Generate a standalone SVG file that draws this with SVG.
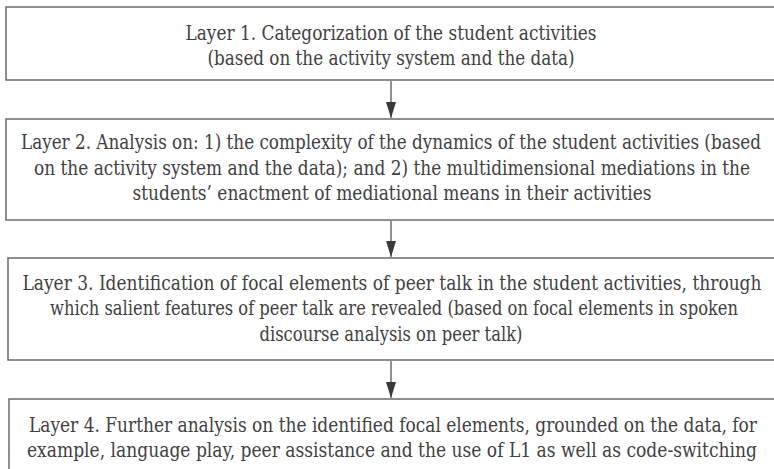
<svg xmlns="http://www.w3.org/2000/svg" width="774" height="469" viewBox="0 0 774 469">
<defs>
<style>
.box{fill:none;stroke:#6a6a6a;stroke-width:1.5}
text{font-family:'DejaVu Serif Condensed','DejaVu Serif',serif;font-stretch:condensed;font-size:20px;fill:#404040;text-anchor:middle}
.c{stroke:#555;stroke-width:1.3;fill:none}
</style>
<marker id="ah" viewBox="0 0 16 10" refX="16" refY="5" markerWidth="16" markerHeight="10" markerUnits="userSpaceOnUse" orient="auto">
<path d="M0,0 L16,5 L0,10 Z" fill="#3a3a3a"/>
</marker>
</defs>
<rect width="774" height="469" fill="#ffffff"/>
<g id="connectors">
<line class="c" x1="391" y1="81" x2="391" y2="118" marker-end="url(#ah)"/>
<line class="c" x1="391" y1="221" x2="391" y2="257" marker-end="url(#ah)"/>
<line class="c" x1="391" y1="361" x2="391" y2="398" marker-end="url(#ah)"/>
</g>
<g id="layer1">
<rect class="box" x="6" y="7" width="772" height="73"/>
<text x="391" y="40" textLength="411" lengthAdjust="spacingAndGlyphs">Layer 1. Categorization of the student activities</text>
<text x="391" y="65" textLength="367" lengthAdjust="spacingAndGlyphs">(based on the activity system and the data)</text>
</g>
<g id="layer2">
<rect class="box" x="6" y="119" width="772" height="101"/>
<text x="391" y="149" textLength="740" lengthAdjust="spacingAndGlyphs">Layer 2. Analysis on: 1) the complexity of the dynamics of the student activities (based</text>
<text x="392" y="175" textLength="716" lengthAdjust="spacingAndGlyphs">on the activity system and the data); and 2) the multidimensional mediations in the</text>
<text x="392" y="200" textLength="519" lengthAdjust="spacingAndGlyphs">students’ enactment of mediational means in their activities</text>
</g>
<g id="layer3">
<rect class="box" x="8" y="258" width="770" height="102"/>
<text x="392" y="290" textLength="739" lengthAdjust="spacingAndGlyphs">Layer 3. Identification of focal elements of peer talk in the student activities, through</text>
<text x="394" y="315" textLength="688" lengthAdjust="spacingAndGlyphs">which salient features of peer talk are revealed (based on focal elements in spoken</text>
<text x="391" y="341" textLength="263" lengthAdjust="spacingAndGlyphs">discourse analysis on peer talk)</text>
</g>
<g id="layer4">
<rect class="box" x="9" y="399" width="770" height="90"/>
<text x="393" y="432" textLength="728" lengthAdjust="spacingAndGlyphs">Layer 4. Further analysis on the identified focal elements, grounded on the data, for</text>
<text x="392" y="457" textLength="730" lengthAdjust="spacingAndGlyphs">example, language play, peer assistance and the use of L1 as well as code-switching</text>
</g>
</svg>
